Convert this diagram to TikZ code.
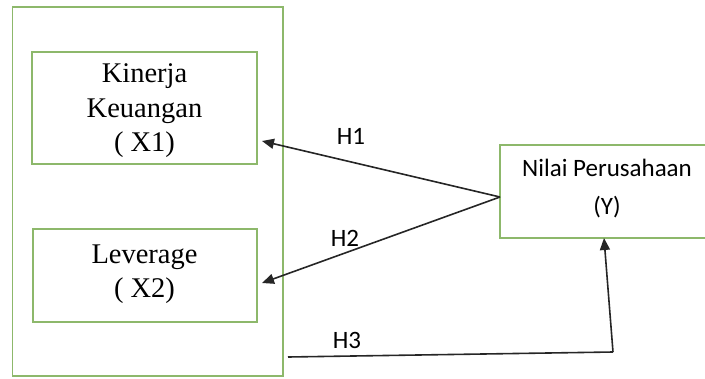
\documentclass[tikz,border=0pt]{standalone}
\usepackage{fontspec}
\setmainfont{Liberation Serif}
\newfontfamily\calib{Carlito}
\usetikzlibrary{arrows.meta}
\definecolor{boxgreen}{HTML}{8DB86B}
\begin{document}
\begin{tikzpicture}[x=1pt,y=-1pt,
  gbox/.style={draw=boxgreen, line width=1.6pt, rectangle, inner sep=0pt, align=center},
  gline/.style={draw=boxgreen, line width=1.6pt},
  serift/.style={font=\fontsize{28.5}{34.5}\selectfont},
  calt/.style={font=\calib\fontsize{25}{38}\selectfont},
  conn/.style={draw=black!85, line width=1.6pt},
  arr/.style={conn, -{Triangle[length=12pt,width=10pt]}},
  hlab/.style={calt, inner sep=0pt}]
\useasboundingbox (0,0) rectangle (705,378);
\node[gbox, minimum width=270.5pt, minimum height=369pt] (outer) at (147.75,191.5) {};
\node[gbox, minimum width=225pt, minimum height=112pt] (x1) at (144.5,108) {};
\node[serift, align=center, inner sep=0pt] (x1t) at (144.5,111) {Kinerja\\Keuangan\\( X1)};
\node[gbox, minimum width=224pt, minimum height=93pt] (x2) at (145,275.5) {};
\node[serift, align=center, inner sep=0pt] (x2t) at (144.5,274) {Leverage\\( X2)};
\node[minimum width=205pt, minimum height=93pt, inner sep=0pt] (y) at (602.5,191.5) {};
\draw[gline] (y.north east) -- (y.north west) -- (y.south west) -- (y.south east);
\node[calt, align=center, inner sep=0pt] (yt) at (607,189) {Nilai Perusahaan\\(Y)};
\coordinate (ys) at (500,197);
\coordinate (t1) at (262,141);
\coordinate (t2) at (262,283);
\coordinate (s3) at (288,357);
\coordinate (k3) at (613,352);
\coordinate (t3) at (604,238);
\draw[arr] (ys) -- (t1);
\draw[arr] (ys) -- (t2);
\draw[conn] (s3) -- (k3);
\draw[arr] (k3) -- (t3);
\node[hlab] (h1) at (351,136.5) {H1};
\node[hlab] (h2) at (345,238.5) {H2};
\node[hlab] (h3) at (347,340.5) {H3};
\end{tikzpicture}
\end{document}
